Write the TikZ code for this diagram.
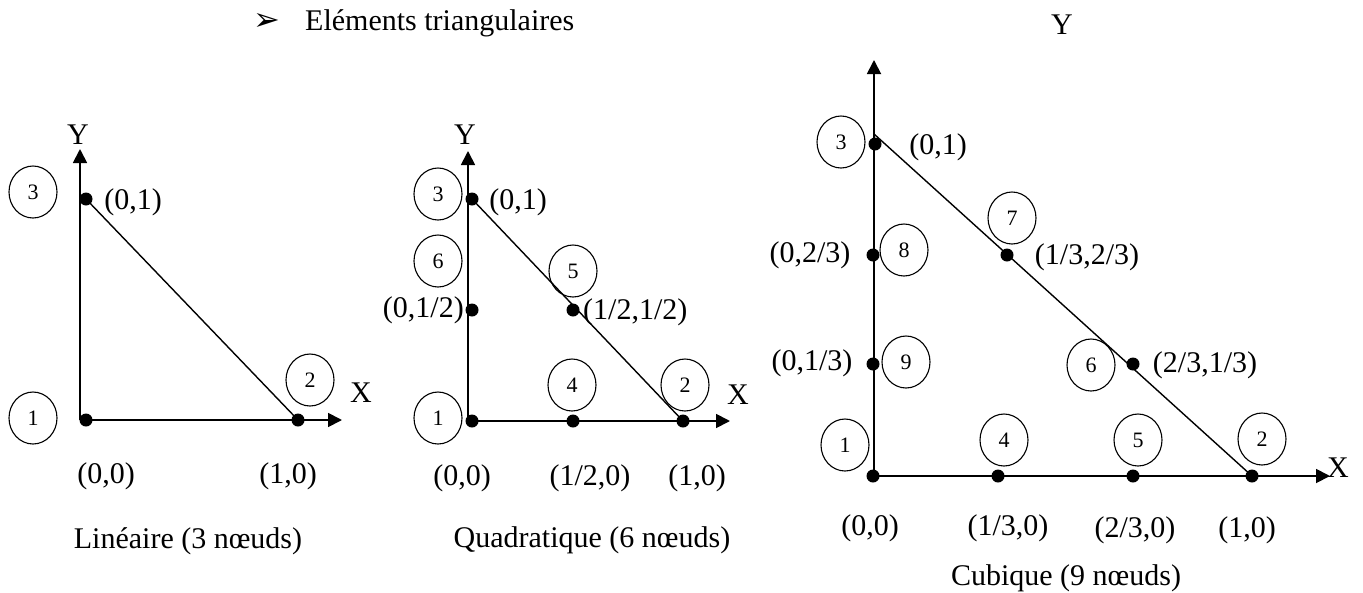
\documentclass[tikz,border=0pt]{standalone}
\usepackage{fontspec}
\setmainfont{Liberation Serif}
\newfontfamily\symbfont{DejaVu Sans}
\usetikzlibrary{arrows.meta,shapes.geometric}

\begin{document}
\begin{tikzpicture}[x=1pt, y=-1pt, >={Triangle[length=14pt,width=14pt]},
  axis/.style={line width=1.8pt, ->},
  edge/.style={line width=1.4pt},
  dot/.style={circle, fill=black, inner sep=0pt, minimum size=13pt},
  nodenum/.style={draw, ellipse, line width=1.1pt, minimum width=48pt, minimum height=52pt,
    inner sep=0pt, font=\fontsize{22}{26}\selectfont},
  lbl/.style={inner sep=0pt, font=\fontsize{30}{36}\selectfont}]

  % Page frame
  \useasboundingbox (0,0) rectangle (1363,592);

  % Title
  \node[inner sep=0pt, font=\symbfont\fontsize{32}{36}\selectfont] (bullet) at (267,22) {➢};
  \node[lbl, anchor=west] (title) at (305,23) {Eléments triangulaires};

  % ==================== LINEAIRE (3 NOEUDS) ====================
  \coordinate (La) at (80,420);
  \coordinate (Lx) at (342,420);
  \coordinate (Ly) at (80,149);
  \draw[axis] (La) -- (Lx);
  \draw[axis] (La) -- (Ly);
  \node[lbl] (LyLbl) at (78,135) {Y};
  \node[lbl] (LxLbl) at (361,393) {X};

  % Nodes
  \foreach \n/\x/\y in {1/86/420, 2/298/420, 3/86/199} {
    \node[dot] (L\n) at (\x,\y) {};
  }
  \draw[edge] (L3.center) -- (L2.center);
  \foreach \n/\x/\y in {1/33/418, 2/310/380, 3/33/192} {
    \node[nodenum] (Lc\n) at (\x,\y) {\n};
  }

  % Coordinates
  \node[lbl] (Lp3) at (133,202) {(0,1)};
  \node[lbl] (Lp1) at (106,476) {(0,0)};
  \node[lbl] (Lp2) at (288,476) {(1,0)};
  \node[lbl] (Lcap) at (188,541) {Linéaire (3 nœuds)};

  % ==================== QUADRATIQUE (6 NOEUDS) ====================
  \coordinate (Qa) at (468,421);
  \coordinate (Qx) at (730,421);
  \coordinate (Qy) at (468,151);
  \draw[axis] (Qa) -- (Qx);
  \draw[axis] (Qa) -- (Qy);
  \node[lbl] (QyLbl) at (465,135) {Y};
  \node[lbl] (QxLbl) at (738,395) {X};

  % Nodes
  \foreach \n/\x/\y in {1/472/421, 2/683/421, 3/472/199, 4/573/421, 5/573/310, 6/472/310} {
    \node[dot] (Q\n) at (\x,\y) {};
  }
  \draw[edge] (Q3.center) -- (Q2.center);
  \foreach \n/\x/\y in {1/438/418, 2/685/385, 3/438/194, 4/572/385, 5/573/271, 6/438/261} {
    \node[nodenum] (Qc\n) at (\x,\y) {\n};
  }

  % Coordinates
  \node[lbl] (Qp3) at (518,202) {(0,1)};
  \node[lbl, anchor=east] (Qp6) at (464,310) {(0,1/2)};
  \node[lbl, anchor=west] (Qp5) at (583,312) {(1/2,1/2)};
  \node[lbl] (Qp1) at (462,478) {(0,0)};
  \node[lbl] (Qp4) at (590,478) {(1/2,0)};
  \node[lbl] (Qp2) at (697,478) {(1,0)};
  \node[lbl] (Qcap) at (592,540) {Quadratique (6 nœuds)};

  % ==================== CUBIQUE (9 NOEUDS) ====================
  \coordinate (Ca) at (874,476);
  \coordinate (Cx) at (1330,476);
  \coordinate (Cy) at (874,60);
  \coordinate (Ctop) at (874,134);
  \draw[axis] (Ca) -- (Cx);
  \draw[axis] (Ca) -- (Cy);
  \node[lbl] (CyLbl) at (1062,25) {Y};
  \node[lbl] (CxLbl) at (1338,468) {X};

  % Nodes
  \foreach \n/\x/\y in {1/873/476, 2/1252/476, 3/875/144, 4/998/476, 5/1133/476,
                        6/1133/364, 7/1007/255, 8/873/255, 9/873/364} {
    \node[dot] (C\n) at (\x,\y) {};
  }
  \draw[edge] (Ctop) -- (C2.center);
  \foreach \n/\x/\y in {1/845/445, 2/1262/439, 3/841/142, 4/1004/440, 5/1138/440,
                        6/1091/365, 7/1012/218, 8/904/250, 9/906/362} {
    \node[nodenum] (Cc\n) at (\x,\y) {\n};
  }

  % Coordinates
  \node[lbl] (Cp3) at (938,147) {(0,1)};
  \node[lbl] (Cp7) at (1087,257) {(1/3,2/3)};
  \node[lbl] (Cp8) at (810,255) {(0,2/3)};
  \node[lbl] (Cp9) at (812,363) {(0,1/3)};
  \node[lbl] (Cp6) at (1205,365) {(2/3,1/3)};
  \node[lbl] (Cp1) at (870,528) {(0,0)};
  \node[lbl] (Cp4) at (1008,528) {(1/3,0)};
  \node[lbl] (Cp5) at (1135,530) {(2/3,0)};
  \node[lbl] (Cp2) at (1247,530) {(1,0)};
  \node[lbl] (Ccap) at (1066,578) {Cubique (9 nœuds)};

\end{tikzpicture}
\end{document}
